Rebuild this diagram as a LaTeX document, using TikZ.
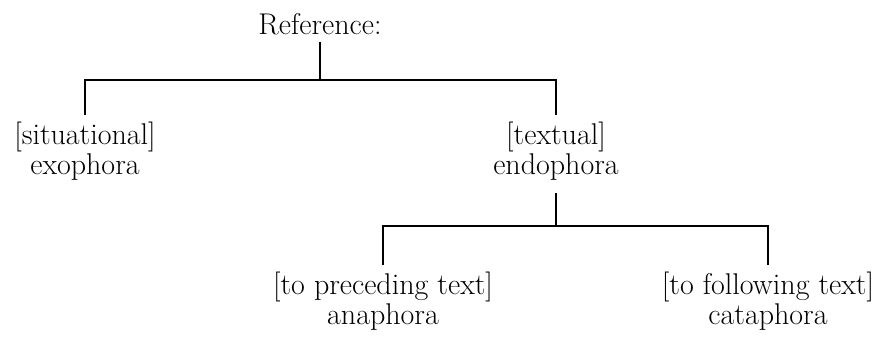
\documentclass[tikz,border=0pt]{standalone}
\begin{document}
\begin{tikzpicture}[x=0.5pt,y=0.5pt,line width=0.8pt,
    lbl/.style={align=center,font=\fontsize{15}{14}\selectfont,inner sep=3pt}]
\useasboundingbox (0,0) rectangle (893,337);
\node[lbl] (ref) at (320,313) {Reference:};
\node[lbl] (exo) at (85,186) {[situational]\\exophora};
\node[lbl] (endo) at (556,186) {[textual]\\endophora};
\node[lbl] (ana) at (383,36) {[to preceding text]\\anaphora};
\node[lbl] (cata) at (768,36) {[to following text]\\cataphora};
\coordinate (split1) at (320,257);
\coordinate (split2) at (556,111);
\draw (ref) -- (split1);
\draw (exo) |- (split1) -| (endo);
\draw[shorten <=3pt] (endo) -- (split2);
\draw (ana) |- (split2) -| (cata);
\end{tikzpicture}
\end{document}
